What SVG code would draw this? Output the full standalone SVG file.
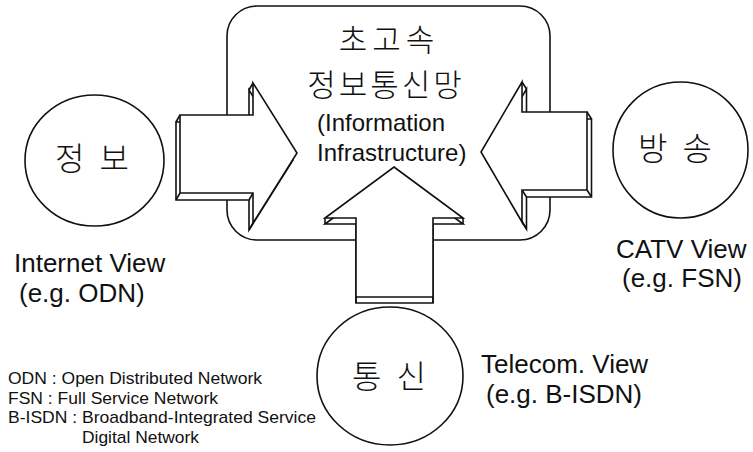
<svg xmlns="http://www.w3.org/2000/svg" width="753" height="452" viewBox="0 0 753 452">
  <style>
    .line { fill: #fff; stroke: #111; stroke-width: 1.6; stroke-linejoin: miter; }
    .edge { fill: none; stroke: #111; stroke-width: 1.6; }
    .ko { font-family: "Noto Sans CJK KR", "Noto Sans", sans-serif; fill: #111; font-weight: 300; }
    .en { font-family: "Liberation Sans", Arial, sans-serif; fill: #111; }
    .label { font-size: 26px; }
    .note { font-size: 17px; }
  </style>

  <rect width="753" height="452" fill="#fff"/>

  <!-- central hub: high-speed information network -->
  <g id="node-hub">
    <rect class="line" x="227" y="6" width="323" height="234" rx="30" ry="30"/>
  </g>

  <!-- the three views feeding into the hub -->
  <g id="connectors">
    <!-- from 정보 (pointing right), extruded towards lower-left -->
    <g id="arrow-info">
      <polygon class="line" transform="translate(-4 7)" points="180,115 253,115 253,83 297,153 253,223 253,193 180,193"/>
      <path class="edge" d="M180,115 l-4,7 M253,83 l-4,7 M180,193 l-4,7 M253,193 l-4,7 M253,223 l-4,7"/>
      <polygon class="line" points="180,115 253,115 253,83 297,153 253,223 253,193 180,193"/>
    </g>
    <!-- from 방송 (pointing left), extruded towards lower-right -->
    <g id="arrow-broadcast">
      <polygon class="line" transform="translate(4.5 7)" points="587,112 522,112 522,82 481,152 522,222 522,190 587,190"/>
      <path class="edge" d="M587,112 l4.5,7 M522,82 l4.5,7 M587,190 l4.5,7 M522,190 l4.5,7 M522,222 l4.5,7"/>
      <polygon class="line" points="587,112 522,112 522,82 481,152 522,222 522,190 587,190"/>
    </g>
    <!-- from 통신 (pointing up), extruded downwards -->
    <g id="arrow-telecom">
      <polygon class="line" transform="translate(0 6)" points="394,167 463,218 433,218 433,297 356,297 356,218 325,218"/>
      <path class="edge" d="M325,218 v6 M463,218 v6 M356,297 v6 M433,297 v6"/>
      <polygon class="line" points="394,167 463,218 433,218 433,297 356,297 356,218 325,218"/>
    </g>
  </g>

  <!-- hub titles -->
  <g id="hub-title">
    <text class="ko" x="389" y="51" font-size="31" letter-spacing="5" text-anchor="middle">초고속</text>
    <text class="ko" x="386" y="96" font-size="31" letter-spacing="3" text-anchor="middle">정보통신망</text>
    <text class="en" x="317" y="131" font-size="24">(Information</text>
    <text class="en" x="317" y="161" font-size="24">Infrastructure)</text>
  </g>

  <g id="node-info">
    <ellipse class="line" cx="94.5" cy="160.5" rx="69.5" ry="65.5"/>
    <text class="ko" x="94" y="170" font-size="32" letter-spacing="4" text-anchor="middle">정 보</text>
    <text class="en label" x="14" y="272">Internet View</text>
    <text class="en label" x="19" y="302">(e.g. ODN)</text>
  </g>

  <g id="node-broadcast">
    <ellipse class="line" cx="680.5" cy="150" rx="67.5" ry="68"/>
    <text class="ko" x="677" y="160" font-size="32" letter-spacing="4" text-anchor="middle">방 송</text>
    <text class="en label" x="616" y="258">CATV View</text>
    <text class="en label" x="622" y="287">(e.g. FSN)</text>
  </g>

  <g id="node-telecom">
    <ellipse class="line" cx="390" cy="376" rx="73" ry="69"/>
    <text class="ko" x="391" y="388" font-size="32" font-weight="500" letter-spacing="4" text-anchor="middle">통 신</text>
    <text class="en label" x="481" y="373">Telecom. View</text>
    <text class="en label" x="486" y="403">(e.g. B-ISDN)</text>
  </g>

  <g id="legend" class="en note">
    <text x="8" y="384" textLength="254" lengthAdjust="spacingAndGlyphs">ODN : Open Distributed Network</text>
    <text x="8" y="404" textLength="210" lengthAdjust="spacingAndGlyphs">FSN : Full Service Network</text>
    <text x="8" y="423" textLength="308" lengthAdjust="spacingAndGlyphs">B-ISDN : Broadband-Integrated Service</text>
    <text x="82" y="443" textLength="117" lengthAdjust="spacingAndGlyphs">Digital Network</text>
  </g>
</svg>
